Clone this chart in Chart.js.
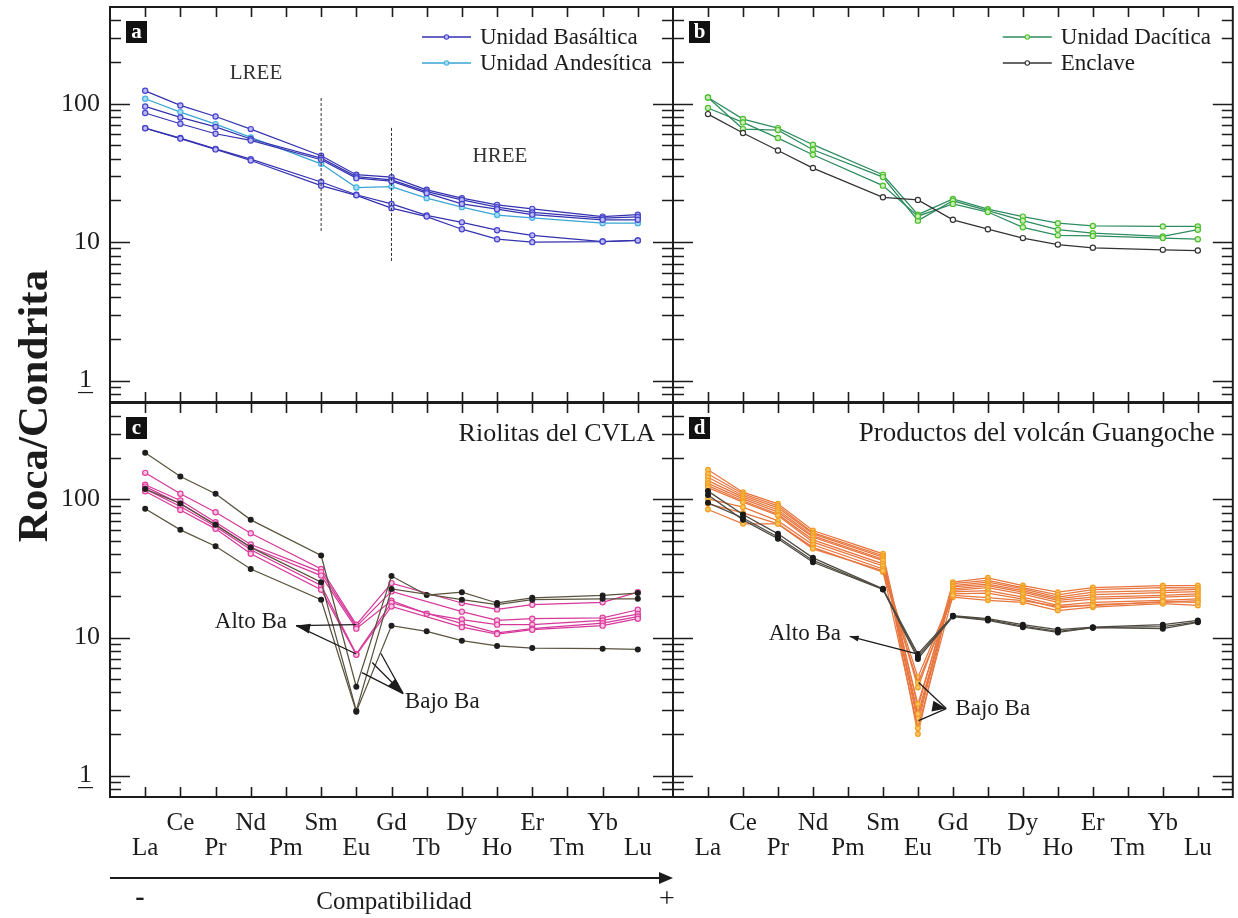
<!DOCTYPE html>
<html lang="es">
<head>
<meta charset="utf-8">
<title>Diagramas de tierras raras normalizados a condrita</title>
<script src="https://cdn.jsdelivr.net/npm/chart.js@4.4.1/dist/chart.umd.min.js"></script>
<style>
  html, body { margin: 0; padding: 0; background: #ffffff; }
  #wrap { position: relative; width: 1238px; height: 918px; overflow: hidden; background: #ffffff; }
  #wrap canvas { position: absolute; left: 0; top: 0; }
</style>
</head>
<body>
<div id="wrap">
  <canvas id="panelA" width="1238" height="918"></canvas>
  <canvas id="panelB" width="1238" height="918"></canvas>
  <canvas id="panelC" width="1238" height="918"></canvas>
  <canvas id="panelD" width="1238" height="918"></canvas>
</div>
<script>
// ---- Rare earth elements (x categories) and y tick labels ----
const ELEMENTS = ['La', 'Ce', 'Pr', 'Nd', 'Pm', 'Sm', 'Eu', 'Gd', 'Tb', 'Dy', 'Ho', 'Er', 'Tm', 'Yb', 'Lu'];
const Y_TICK_LABELS = [1, 10, 100];

// ---- (a) Unidad Basáltica / Unidad Andesítica (rock / chondrite) ----
const basalticA1 = [124, 97.2, 80.9, 65.6, null, 42.1, 30.7, 29.5, 23.9, 20.8, 18.6, 17.4, null, 15.3, 15.8];
const basalticA2 = [95.6, 79.6, 68.0, 55.6, null, 40.5, 29.8, 28.2, 23.2, 20.2, 17.9, 16.4, null, 14.9, 15.2];
const basalticA3 = [85.7, 71.7, 60.7, 54.3, null, 39.4, 29.0, 27.6, 22.6, 18.9, 17.3, 15.8, null, 14.5, 14.5];
const basalticA4 = [66.7, 56.5, 47.2, 39.8, null, 27.2, 22.0, 18.9, 15.6, 13.9, 12.2, 11.2, null, 10.1, 10.3];
const basalticA5 = [66.5, 56.0, 46.8, 38.9, null, 25.6, 21.8, 17.6, 15.3, 12.4, 10.5, 10.0, null, 10.1, 10.3];
const andesiticA1 = [108.7, 87.0, 71.3, 57.1, null, 36.8, 24.8, 25.2, 20.8, 17.9, 15.7, 15.0, null, 13.7, 13.7];
// LREE / HREE divider guides: [element index, upper value, lower value]
const lreeGuide = [5, 110, 11.9];
const hreeGuide = [7, 66.9, 7.2];

// ---- (b) Unidad Dacítica / Enclave ----
const daciticB1 = [111, 77.5, 66.7, 50.6, null, 30.7, 15.8, 20.5, 17.3, 15.3, 13.7, 13.1, null, 13.0, 13.0];
const daciticB2 = [111, 65.6, 64.5, 46.5, null, 29.5, 14.3, 19.9, 16.9, 14.3, 12.3, 11.6, null, 11.0, 12.3];
const daciticB3 = [93.1, 73.3, 56.5, 42.8, null, 25.6, 15.4, 18.9, 16.5, 12.8, 11.2, 11.1, null, 10.7, 10.5];
const enclaveB1 = [84.2, 61.4, 45.9, 34.3, null, 21.1, 20.2, 14.5, 12.4, 10.7, 9.6, 9.1, null, 8.8, 8.7];

// ---- (c) Riolitas del CVLA ----
const rhyoliteC1 = [156, 110, 80.9, 57.0, null, 31.4, 12.4, 24.8, null, 17.8, 16.0, 17.3, null, 18.0, 21.3];
const rhyoliteC2 = [128, 98.3, 68.5, 47.2, null, 29.8, 12.0, 21.6, null, 15.4, 13.3, 13.7, null, 13.9, 15.9];
const rhyoliteC3 = [124, 93.0, 65.9, 45.1, null, 28.1, 11.6, 18.5, 14.9, 13.5, 12.4, 12.4, null, 13.3, 14.8];
const rhyoliteC4 = [119.5, 89.0, 63.7, 43.2, null, 23.8, 7.6, 17.9, null, 12.6, 10.8, 11.6, null, 12.7, 14.2];
const rhyoliteC5 = [114.8, 84.0, 61.3, 40.5, null, 22.2, 7.5, 16.8, null, 11.9, 10.6, 11.4, null, 12.2, 13.7];
const lowBaC1 = [218, 146.8, 110, 71.2, null, 39.3, 4.4, 27.9, 20.3, 21.3, 17.8, 19.4, null, 20.2, 21.0];
const lowBaC2 = [119, 93.5, 65.5, 45.0, null, 25.2, 2.95, 22.5, null, 18.8, 17.3, 18.8, null, 19.1, 19.1];
const lowBaC3 = [85.6, 60.3, 45.9, 31.4, null, 18.8, 2.9, 12.2, 11.1, 9.5, 8.7, 8.4, null, 8.3, 8.2];

// ---- (d) Productos del volcán Guangoche ----
const guangocheD1 = [164, 113, 93, 59.6, null, 40.4, 3.1, 25.2, 27.1, 23.8, 21.3, 23.0, null, 23.8, 23.8];
const guangocheD2 = [153, 110, 90, 57.5, null, 39.2, 2.0, 24.6, 26.0, 23.0, 20.4, 22.2, null, 23.0, 22.9];
const guangocheD3 = [145, 107, 87, 56.4, null, 38.2, 2.4, 23.8, 25.2, 22.5, 19.6, 21.3, null, 21.9, 22.3];
const guangocheD4 = [137, 104, 84, 54.5, null, 37.0, 2.6, 23.3, 24.4, 21.9, 19.1, 20.5, null, 21.2, 21.5];
const guangocheD5 = [131, 101, 81, 53.3, null, 36.1, 2.8, 22.5, 23.8, 21.3, 18.6, 19.6, null, 20.2, 20.7];
const guangocheD6 = [126, 98, 78, 51.0, null, 34.2, 3.3, 22.0, 23.0, 20.6, 18.0, 19.0, null, 19.6, 20.0];
const guangocheD7 = [122, 95.6, 76.6, 49.1, null, 33.0, 4.35, 21.4, 21.9, 19.6, 17.1, 18.0, null, 18.6, 19.1];
const guangocheD8 = [101, 88, 70, 47.0, null, 31.4, 5.16, 20.7, 21.0, 19.0, 16.4, 17.3, null, 18.0, 18.5];
const guangocheD9 = [93, 80, 66.6, 45.0, null, 29.8, 4.7, 19.6, 18.6, 18.0, 15.7, 16.6, null, 17.6, 17.1];
const guangocheD10 = [84.6, 66.6, 66.6, 43.9, null, 30.5, 2.2, 20.2, 19.5, 18.5, 16.8, 17.0, null, 18.2, 18.0];
const highBaD1 = [115, 77.9, 56.4, 37.8, null, 22.6, 7.6, 14.4, 13.7, 12.4, 11.4, 11.9, null, 12.4, 13.3];
const highBaD2 = [108, 71.2, 51.9, 35.1, null, 22.3, 7.0, 14.2, 13.3, 11.9, 10.9, 11.8, null, 11.6, 12.9];
const highBaD3 = [94.6, 73.5, 53.5, 36.2, null, 22.4, 7.3, 14.3, 13.5, 12.1, 11.1, 11.8, null, 12.0, 13.0];

// ---------------------------------------------------------------------
const INK = '#1c1c1c';
const SERIF = "'Liberation Serif', 'DejaVu Serif', serif";
const Y_MIN = 0.7, Y_MAX = 500;

// Convert an element-ordered series into {x, y} points, skipping missing elements
function toPoints(values) {
  const pts = [];
  values.forEach((v, i) => { if (v !== null) pts.push({ x: i, y: v }); });
  return pts;
}

function series(values, style) {
  return {
    data: toPoints(values),
    borderColor: style.line,
    borderWidth: 1.25,
    pointRadius: style.radius || 2.6,
    pointBorderWidth: 1.2,
    pointBorderColor: style.ring,
    pointBackgroundColor: style.fill,
    backgroundColor: style.fill,
    tension: 0,
    fill: false
  };
}

function guide(g) {
  return {
    data: [{ x: g[0], y: g[1] }, { x: g[0], y: g[2] }],
    borderColor: '#333333',
    borderWidth: 1,
    borderDash: [3, 2],
    pointRadius: 0,
    fill: false
  };
}

const STYLE = {
  basaltic:  { line: '#3532b0', ring: '#4643cc', fill: '#bcbaf4' },
  andesitic: { line: '#3aa4d6', ring: '#44b2e4', fill: '#a9dcf1' },
  dacitic:   { line: '#2f8c60', ring: '#4cbf2e', fill: '#cdeebb' },
  enclave:   { line: '#333333', ring: '#333333', fill: '#ffffff' },
  rhyolite:  { line: '#d6389a', ring: '#df3f9e', fill: '#f6c6e2' },
  lowBa:     { line: '#5a533e', ring: '#1e1e1e', fill: '#1e1e1e', radius: 2.4 },
  guangoche: { line: '#e8763f', ring: '#f29f27', fill: '#f7c65e', radius: 2.4 },
  highBa:    { line: '#4e4a40', ring: '#1a1a1a', fill: '#1a1a1a', radius: 2.4 }
};

// Frame, inward ticks, labels, legends and annotations for each panel
const panelDeco = {
  id: 'panelDeco',
  afterDraw(chart, args, o) {
    const ctx = chart.ctx;
    const a = chart.chartArea;
    const xs = chart.scales.x, ys = chart.scales.y;
    ctx.save();

    // tick marks on all four sides
    ctx.strokeStyle = INK;
    ctx.lineWidth = 1.6;
    ctx.beginPath();
    ELEMENTS.forEach((_, i) => {
      const px = Math.round(xs.getPixelForValue(i)) + 0.5;
      ctx.moveTo(px, a.top); ctx.lineTo(px, a.top + 10);
      ctx.moveTo(px, a.bottom); ctx.lineTo(px, a.bottom - 10);
    });
    for (let e = -1; e <= 2; e++) {
      for (let m = 1; m <= 9; m++) {
        const v = m * Math.pow(10, e);
        if (v <= Y_MIN + 1e-9 || v >= Y_MAX - 1e-9) continue;
        const py = Math.round(ys.getPixelForValue(v)) + 0.5;
        const len = m === 1 ? 20 : 11;
        ctx.moveTo(a.left, py); ctx.lineTo(a.left + len, py);
        ctx.moveTo(a.right, py); ctx.lineTo(a.right - len, py);
      }
    }
    ctx.stroke();

    // frame
    ctx.lineWidth = 2;
    ctx.strokeRect(a.left, a.top, a.right - a.left, a.bottom - a.top);

    ctx.fillStyle = INK;
    // y tick labels
    if (o.yLabels) {
      ctx.font = '26px ' + SERIF;
      ctx.textBaseline = 'middle';
      ctx.textAlign = 'right';
      Y_TICK_LABELS.forEach(v => {
        const py = ys.getPixelForValue(v);
        const txt = String(v);
        const rx = txt.length === 1 ? a.left - 18 : a.left - 10;
        ctx.fillText(txt, rx, py);
        if (txt.length === 1) {
          const w = ctx.measureText(txt).width;
          ctx.lineWidth = 1.2;
          ctx.beginPath();
          ctx.moveTo(rx - w - 1, py + 12); ctx.lineTo(rx + 1, py + 12);
          ctx.stroke();
        }
      });
    }

    // x tick labels in two staggered rows
    if (o.xLabels) {
      ctx.font = '25px ' + SERIF;
      ctx.textAlign = 'center';
      ctx.textBaseline = 'middle';
      ELEMENTS.forEach((el, i) => {
        const px = xs.getPixelForValue(i);
        ctx.fillText(el, px, i % 2 === 1 ? a.bottom + 26 : a.bottom + 51);
      });
    }

    // panel letter
    ctx.fillStyle = '#111111';
    ctx.fillRect(a.left + 16, a.top + 14, 21, 22);
    ctx.fillStyle = '#ffffff';
    ctx.font = 'bold 21px ' + SERIF;
    ctx.textAlign = 'center';
    ctx.textBaseline = 'middle';
    ctx.fillText(o.letter, a.left + 26.5, a.top + 25.5);

    ctx.fillStyle = INK;
    // legend entries
    (o.legend || []).forEach((item, k) => {
      const ly = a.top + 30 + k * 26;
      const x0 = a.right - o.legendOffset, x1 = x0 + 49;
      ctx.strokeStyle = item.style.line;
      ctx.lineWidth = 1.4;
      ctx.beginPath(); ctx.moveTo(x0, ly); ctx.lineTo(x1, ly); ctx.stroke();
      ctx.beginPath(); ctx.arc((x0 + x1) / 2, ly, 2.2, 0, Math.PI * 2);
      ctx.fillStyle = item.style.fill; ctx.fill();
      ctx.strokeStyle = item.style.ring; ctx.lineWidth = 1.1; ctx.stroke();
      ctx.fillStyle = INK;
      ctx.font = '23px ' + SERIF;
      ctx.textAlign = 'left';
      ctx.textBaseline = 'middle';
      ctx.fillText(item.label, x1 + 9, ly + 1);
    });

    // panel title
    if (o.title) {
      ctx.font = (o.titleSize || 26) + 'px ' + SERIF;
      ctx.textAlign = 'right';
      ctx.textBaseline = 'middle';
      ctx.fillText(o.title, a.right - 18, a.top + 31);
    }

    // free text placed in data coordinates
    (o.texts || []).forEach(t => {
      ctx.font = (t.size || 23) + 'px ' + SERIF;
      ctx.textAlign = t.align || 'center';
      ctx.textBaseline = 'middle';
      ctx.fillStyle = t.color || INK;
      ctx.fillText(t.text, xs.getPixelForValue(t.x), ys.getPixelForValue(t.y));
    });

    // converging arrows in data coordinates
    (o.arrows || []).forEach(ar => {
      const tx = xs.getPixelForValue(ar.tip[0]), ty = ys.getPixelForValue(ar.tip[1]);
      let dx = 0, dy = 0;
      ctx.strokeStyle = INK;
      ctx.lineWidth = 1.3;
      ar.from.forEach(f => {
        const fx = xs.getPixelForValue(f[0]), fy = ys.getPixelForValue(f[1]);
        ctx.beginPath(); ctx.moveTo(fx, fy); ctx.lineTo(tx, ty); ctx.stroke();
        const l = Math.hypot(tx - fx, ty - fy) || 1;
        dx += (tx - fx) / l; dy += (ty - fy) / l;
      });
      const l = Math.hypot(dx, dy) || 1;
      dx /= l; dy /= l;
      const bx = tx - dx * ar.head, by = ty - dy * ar.head;
      ctx.fillStyle = INK;
      ctx.beginPath();
      ctx.moveTo(tx, ty);
      ctx.lineTo(bx - dy * ar.width / 2, by + dx * ar.width / 2);
      ctx.lineTo(bx + dy * ar.width / 2, by - dx * ar.width / 2);
      ctx.closePath();
      ctx.fill();
    });

    // shared page-level captions
    if (o.pageCaptions) {
      ctx.fillStyle = INK;
      ctx.save();
      ctx.translate(47, 406);
      ctx.rotate(-Math.PI / 2);
      ctx.font = 'bold 43px ' + SERIF;
      ctx.textAlign = 'center';
      ctx.textBaseline = 'alphabetic';
      ctx.fillText('Roca/Condrita', 0, 0);
      ctx.restore();

      const ay = a.bottom + 81;
      ctx.strokeStyle = INK;
      ctx.lineWidth = 2;
      ctx.beginPath(); ctx.moveTo(a.left, ay); ctx.lineTo(a.right - 10, ay); ctx.stroke();
      ctx.beginPath();
      ctx.moveTo(a.right, ay); ctx.lineTo(a.right - 14, ay - 6); ctx.lineTo(a.right - 14, ay + 6);
      ctx.closePath(); ctx.fill();

      ctx.font = '25px ' + SERIF;
      ctx.textAlign = 'center';
      ctx.textBaseline = 'middle';
      ctx.fillText('Compatibilidad', 394, ay + 24);
      ctx.font = 'bold 28px ' + SERIF;
      ctx.fillText('-', a.left + 30, ay + 20);
      ctx.font = '28px ' + SERIF;
      ctx.fillText('+', a.right - 6, ay + 22);
    }
    ctx.restore();
  }
};

function makePanel(id, padding, datasets, deco) {
  return new Chart(document.getElementById(id), {
    type: 'line',
    data: { datasets },
    options: {
      responsive: false,
      animation: false,
      events: [],
      devicePixelRatio: 1,
      layout: { padding },
      plugins: { legend: { display: false }, tooltip: { enabled: false }, panelDeco: deco },
      scales: {
        x: { type: 'linear', min: -1, max: 15, display: false },
        y: { type: 'logarithmic', min: Y_MIN, max: Y_MAX, display: false }
      }
    },
    plugins: [panelDeco]
  });
}

// (a)
makePanel('panelA', { left: 110, top: 7, right: 565, bottom: 516 }, [
  guide(lreeGuide), guide(hreeGuide),
  series(basalticA5, STYLE.basaltic), series(basalticA4, STYLE.basaltic),
  series(basalticA3, STYLE.basaltic), series(basalticA2, STYLE.basaltic),
  series(andesiticA1, STYLE.andesitic), series(basalticA1, STYLE.basaltic)
], {
  letter: 'a', yLabels: true, legendOffset: 251,
  legend: [{ label: 'Unidad Basáltica', style: STYLE.basaltic }, { label: 'Unidad Andesítica', style: STYLE.andesitic }],
  texts: [{ text: 'LREE', x: 3.15, y: 165, size: 21, color: '#333333' }, { text: 'HREE', x: 10.08, y: 41.4, size: 21, color: '#333333' }]
});

// (b)
makePanel('panelB', { left: 673, top: 7, right: 1, bottom: 516 }, [
  series(enclaveB1, STYLE.enclave),
  series(daciticB3, STYLE.dacitic), series(daciticB2, STYLE.dacitic), series(daciticB1, STYLE.dacitic)
], {
  letter: 'b', legendOffset: 230,
  legend: [{ label: 'Unidad Dacítica', style: STYLE.dacitic }, { label: 'Enclave', style: STYLE.enclave }]
});

// (c)
makePanel('panelC', { left: 110, top: 403, right: 565, bottom: 121 }, [
  series(lowBaC3, STYLE.lowBa), series(lowBaC2, STYLE.lowBa), series(lowBaC1, STYLE.lowBa),
  series(rhyoliteC5, STYLE.rhyolite), series(rhyoliteC4, STYLE.rhyolite), series(rhyoliteC3, STYLE.rhyolite),
  series(rhyoliteC2, STYLE.rhyolite), series(rhyoliteC1, STYLE.rhyolite)
], {
  letter: 'c', yLabels: true, xLabels: true, pageCaptions: true,
  title: 'Riolitas del CVLA',
  texts: [{ text: 'Alto Ba', x: 4.03, y: 12.9, align: 'right' }, { text: 'Bajo Ba', x: 7.38, y: 3.43, align: 'left' }],
  arrows: [
    { tip: [4.29, 12.2], from: [[6, rhyoliteC1[6]], [6, rhyoliteC4[6]]], head: 14, width: 10 },
    { tip: [7.33, 3.93], from: [[6.16, 5.57], [6.45, 6.59], [6.70, 7.66]], head: 16, width: 11 }
  ]
});

// (d)
makePanel('panelD', { left: 673, top: 403, right: 1, bottom: 121 }, [
  series(highBaD3, STYLE.highBa), series(highBaD2, STYLE.highBa), series(highBaD1, STYLE.highBa),
  series(guangocheD10, STYLE.guangoche), series(guangocheD9, STYLE.guangoche), series(guangocheD8, STYLE.guangoche),
  series(guangocheD7, STYLE.guangoche), series(guangocheD6, STYLE.guangoche), series(guangocheD5, STYLE.guangoche),
  series(guangocheD4, STYLE.guangoche), series(guangocheD3, STYLE.guangoche), series(guangocheD2, STYLE.guangoche),
  series(guangocheD1, STYLE.guangoche)
], {
  letter: 'd', xLabels: true,
  title: 'Productos del volcán Guangoche', titleSize: 27,
  texts: [{ text: 'Alto Ba', x: 3.80, y: 10.7, align: 'right' }, { text: 'Bajo Ba', x: 7.07, y: 3.06, align: 'left' }],
  arrows: [
    { tip: [4.05, 10.2], from: [[6, highBaD1[6]]], head: 9, width: 6 },
    { tip: [6.81, 3.06], from: [[6.02, 4.72], [6.02, 2.5]], head: 14, width: 11 }
  ]
});
</script>
</body>
</html>
